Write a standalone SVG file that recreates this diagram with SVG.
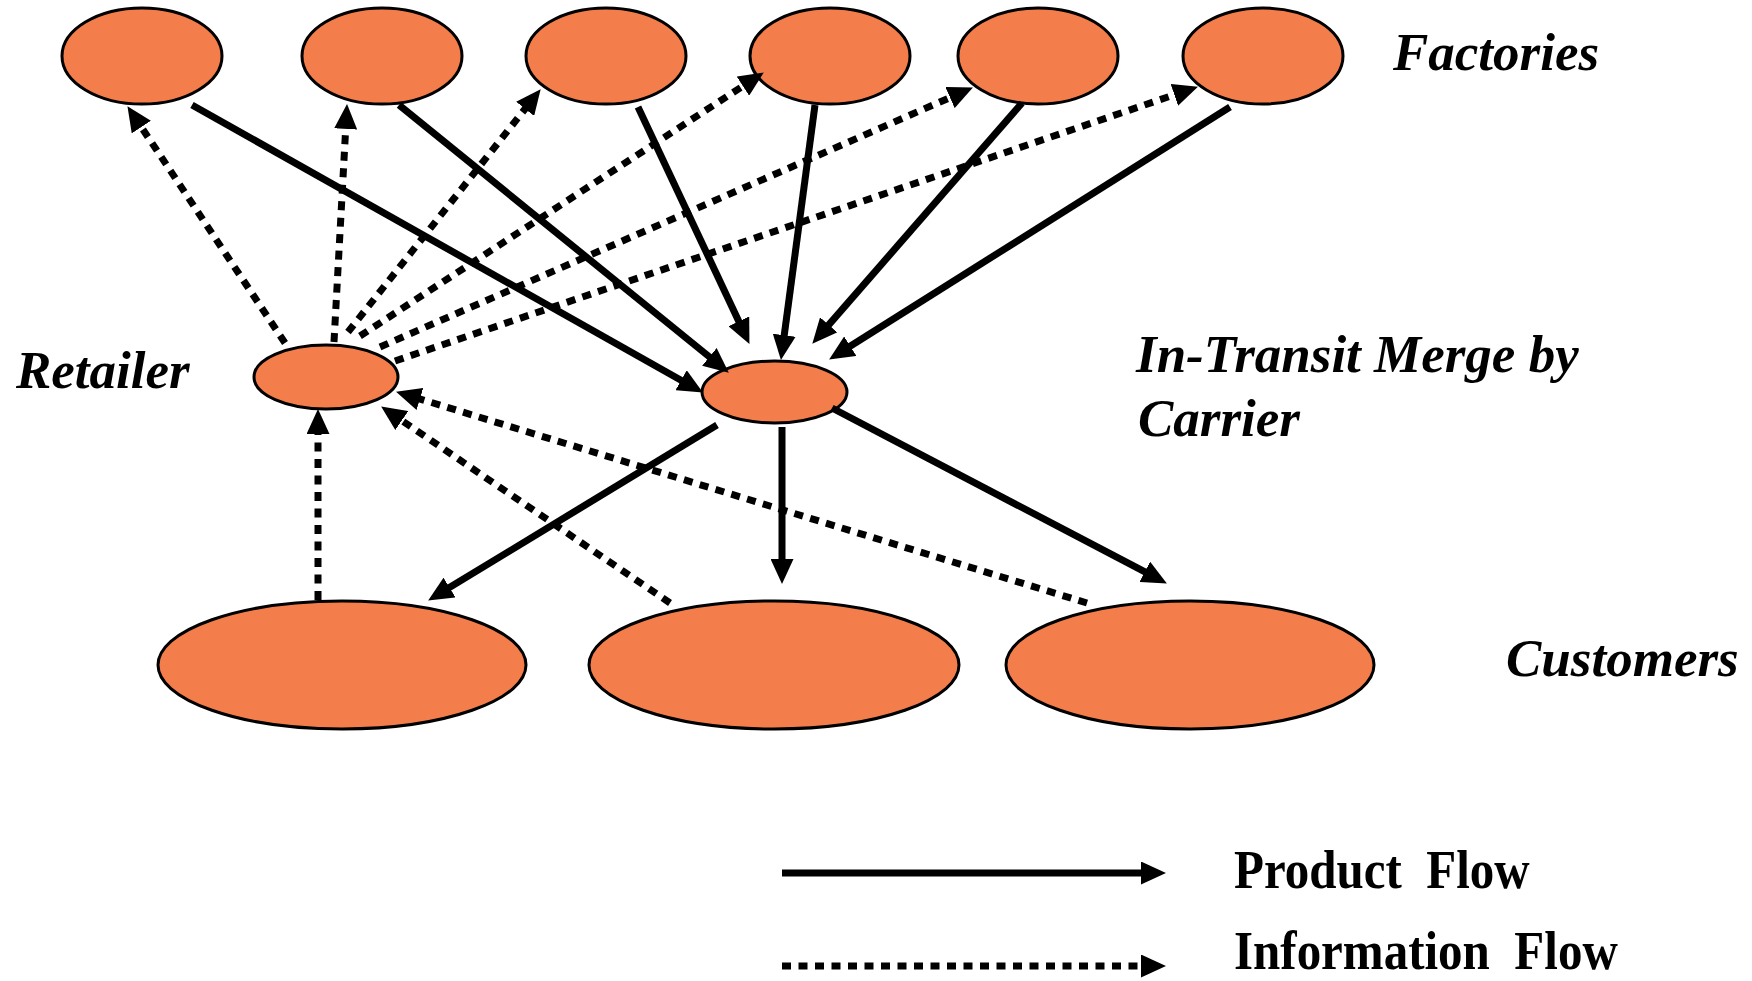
<svg xmlns="http://www.w3.org/2000/svg" width="1752" height="981" viewBox="0 0 1752 981">
  <style>
    .node { fill: #F47E4B; stroke: #000; stroke-width: 3; }
    .product { stroke: #000; stroke-width: 7; fill: none; marker-end: url(#head); }
    .info { stroke: #000; stroke-width: 7; fill: none; stroke-dasharray: 9 7.5; marker-end: url(#head); }
    .label { font-family: "Liberation Serif", "Times New Roman", serif; font-size: 53px; font-weight: bold; font-style: italic; fill: #000; }
    .legend { font-family: "Liberation Serif", "Times New Roman", serif; font-size: 49px; font-weight: bold; fill: #000; white-space: pre; }
  </style>
  <defs>
    <marker id="head" markerUnits="userSpaceOnUse" markerWidth="25" markerHeight="23" refX="4" refY="11.5" orient="auto">
      <path d="M0,0 L25,11.5 L0,23 z" fill="#000"/>
    </marker>
  </defs>

  <rect width="1752" height="981" fill="#fff"/>

  <!-- factories -->
  <g id="factory1"><ellipse class="node" cx="142" cy="56" rx="80" ry="48"/></g>
  <g id="factory2"><ellipse class="node" cx="382" cy="56" rx="80" ry="48"/></g>
  <g id="factory3"><ellipse class="node" cx="606" cy="56" rx="80" ry="48"/></g>
  <g id="factory4"><ellipse class="node" cx="830" cy="56" rx="80" ry="48"/></g>
  <g id="factory5"><ellipse class="node" cx="1038" cy="56" rx="80" ry="48"/></g>
  <g id="factory6"><ellipse class="node" cx="1263" cy="56" rx="80" ry="48"/></g>

  <!-- retailer and merge point -->
  <g id="retailer"><ellipse class="node" cx="326" cy="377" rx="72" ry="32"/></g>
  <g id="merge"><ellipse class="node" cx="774.5" cy="392" rx="72.5" ry="31"/></g>

  <!-- customers -->
  <g id="customer1"><ellipse class="node" cx="342" cy="665" rx="184" ry="64"/></g>
  <g id="customer2"><ellipse class="node" cx="774" cy="665" rx="185" ry="64"/></g>
  <g id="customer3"><ellipse class="node" cx="1190" cy="665" rx="184" ry="64"/></g>

  <!-- flows -->
  <g id="connectors">
    <!-- product: factories to merge -->
    <line class="product" x1="192" y1="105" x2="684.6" y2="382.2"/>
    <line class="product" x1="399" y1="105" x2="712.5" y2="359.4"/>
    <line class="product" x1="638" y1="107" x2="740.5" y2="324.9"/>
    <line class="product" x1="815" y1="105" x2="783.7" y2="339.2"/>
    <line class="product" x1="1022" y1="103" x2="826.1" y2="327.9"/>
    <line class="product" x1="1230" y1="107" x2="846.9" y2="348.3"/>
    <!-- product: merge to customers -->
    <line class="product" x1="717" y1="425" x2="446.1" y2="589.6"/>
    <line class="product" x1="782" y1="427" x2="782" y2="563"/>
    <line class="product" x1="832" y1="408" x2="1148.3" y2="573.7"/>
    <!-- information: retailer to factories -->
    <line class="info" x1="285" y1="343" x2="139.1" y2="123.7"/>
    <line class="info" x1="334" y1="342" x2="345.9" y2="125"/>
    <line class="info" x1="348" y1="332" x2="527.6" y2="105.7"/>
    <line class="info" x1="360" y1="336" x2="746.2" y2="83.9"/>
    <line class="info" x1="380" y1="347" x2="953.7" y2="96"/>
    <line class="info" x1="395" y1="361" x2="1178.1" y2="93.5"/>
    <!-- information: customers to retailer -->
    <line class="info" x1="318" y1="600" x2="318" y2="430"/>
    <line class="info" x1="670" y1="603" x2="398.5" y2="418.3"/>
    <line class="info" x1="1087" y1="603" x2="416.1" y2="397.8"/>
  </g>

  <!-- labels -->
  <text class="label" x="1393" y="70">Factories</text>
  <text class="label" x="16" y="388">Retailer</text>
  <text class="label" x="1136" y="372">In-Transit Merge by</text>
  <text class="label" x="1138" y="436">Carrier</text>
  <text class="label" x="1506" y="676">Customers</text>

  <!-- legend -->
  <g id="legend">
    <line class="product" x1="782" y1="873" x2="1145" y2="873"/>
    <line class="info" x1="782" y1="966" x2="1145" y2="966"/>
    <text class="legend" transform="translate(1234,888) scale(1,1.1)">Product  Flow</text>
    <text class="legend" transform="translate(1234,969) scale(1,1.1)">Information  Flow</text>
  </g>
</svg>
